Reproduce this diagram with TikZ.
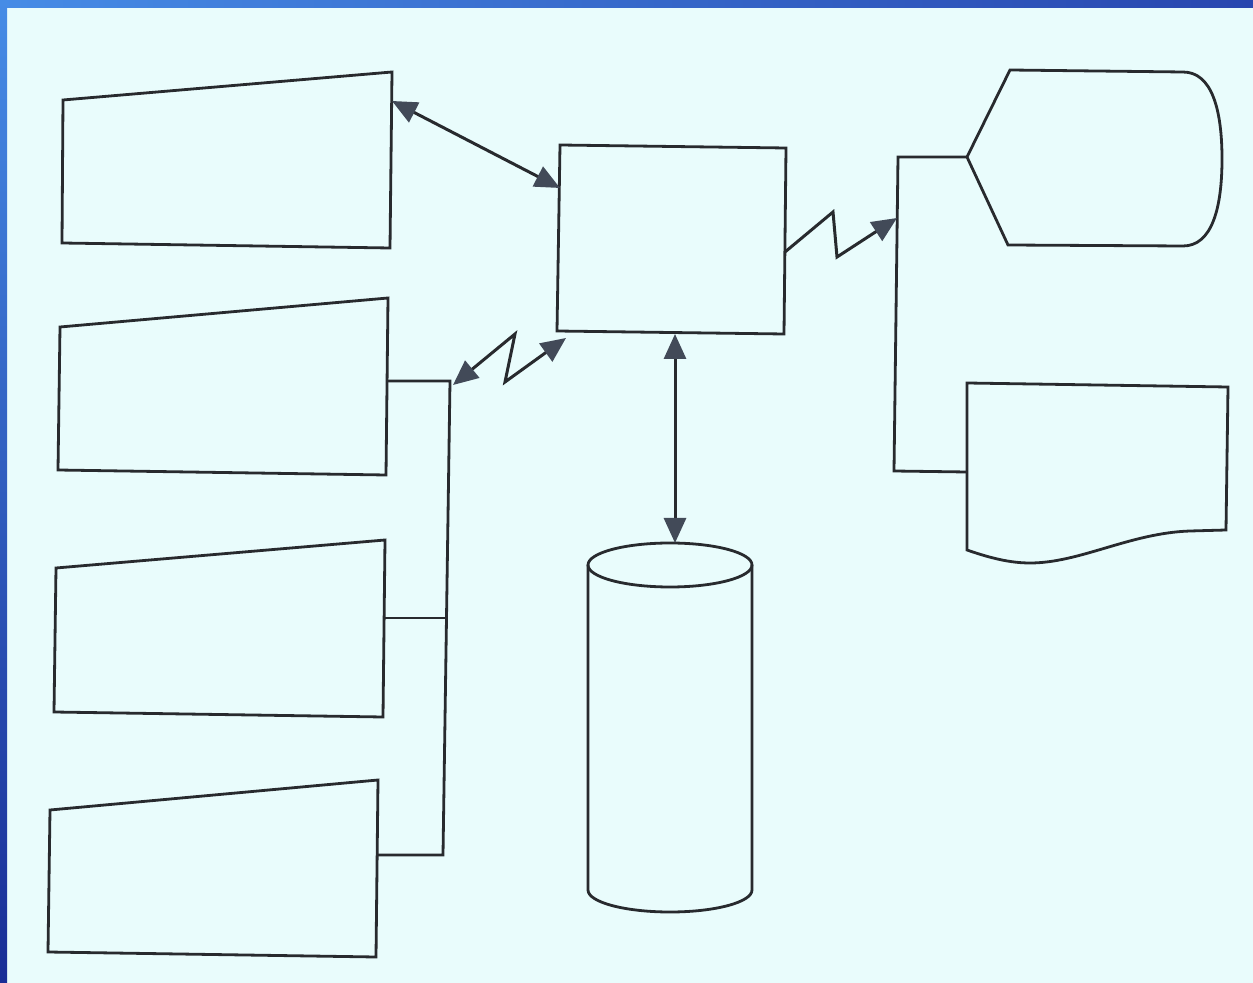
\documentclass[tikz,border=0pt]{standalone}
\usetikzlibrary{arrows.meta}
\definecolor{paper}{RGB}{233,252,252}
\definecolor{ink}{RGB}{40,42,46}
\definecolor{tipfill}{RGB}{66,74,88}
\definecolor{frameA}{RGB}{70,140,230}
\definecolor{frameB}{RGB}{40,70,175}
\definecolor{frameC}{RGB}{25,45,150}
\tikzset{
  outline/.style={draw=ink, line width=1.4pt, line join=miter},
  link/.style={draw=ink, line width=1.4pt},
  flow/.style={draw=ink, line width=1.5pt,
    arrows={-Triangle[length=12.5pt,width=11pt,fill=tipfill,color=tipfill]}},
  flowboth/.style={draw=ink, line width=1.5pt,
    arrows={Triangle[length=12.5pt,width=11pt,fill=tipfill,color=tipfill]-Triangle[length=12.5pt,width=11pt,fill=tipfill,color=tipfill]}}
}
\begin{document}
\begin{tikzpicture}[x=0.5pt,y=-0.5pt]
\useasboundingbox (0,0) rectangle (1253,983);
% page and frame
\fill[paper] (0,0) rectangle (1253,983);
\shade[left color=frameA, right color=frameB] (0,0) rectangle (1253,8);
\shade[top color=frameA, bottom color=frameC] (0,0) rectangle (7,983);

% manual-input blocks on the left
\draw[outline] (63,100) -- (392,72) -- (390,248) -- (62,243) -- cycle;
\draw[outline] (60,327) -- (388,298) -- (386,475) -- (58,470) -- cycle;
\draw[outline] (56,568) -- (385,540) -- (383,717) -- (54,712) -- cycle;
\draw[outline] (50,810) -- (378,780) -- (376,957) -- (48,952) -- cycle;

% process block
\draw[outline] (560,145) -- (786,148) -- (784,334) -- (557,331) -- cycle;

% storage cylinder
\draw[outline] (670,565) ellipse [x radius=41pt, y radius=11pt];
\draw[outline] (588,565) -- (588,890) arc [start angle=180, end angle=360, x radius=41pt, y radius=11pt] -- (752,565);

% display
\draw[outline] (967,157) -- (1010,70) -- (1183,72)
  .. controls (1212,72) and (1222,110) .. (1222,159)
  .. controls (1222,208) and (1212,246) .. (1183,246)
  -- (1008,245) -- cycle;

% document
\draw[outline] (967,383) -- (1228,387) -- (1226,530) -- (1190,531)
  .. controls (1130,533) and (1080,563) .. (1030,563)
  .. controls (1010,563) and (990,558) .. (967,550) -- cycle;

% anchor points
\coordinate (in1) at (392,101);
\coordinate (p-w) at (560,188);
\coordinate (p-sw) at (566,338);
\coordinate (p-s) at (675,334);
\coordinate (p-e) at (785,252);
\coordinate (db-n) at (675,543);
\coordinate (busL) at (453,385);
\coordinate (busL-top) at (450,381);
\coordinate (busL-bot) at (443,855);
\coordinate (in2) at (388,381);
\coordinate (in3) at (385,618);
\coordinate (in4) at (378,855);
\coordinate (busR) at (897,218);
\coordinate (busR-top) at (898,157);
\coordinate (busR-bot) at (894,471);
\coordinate (disp) at (967,157);
\coordinate (doc) at (967,472);

% left collector bus
\draw[link] (in2) -- (busL-top) -- (busL-bot) -- (in4);
\draw[link] (in3) -- (447,618);

% right distribution bus
\draw[link] (disp) -- (busR-top) -- (busR-bot) -- (doc);

% data flows
\draw[flowboth] (in1) -- (p-w);
\draw[flowboth] (p-s) -- (db-n);
\draw[flowboth] (busL) -- (515,334) -- (505,382) -- (p-sw);
\draw[flow] (p-e) -- (833,212) -- (837,257) -- (busR);
\end{tikzpicture}
\end{document}
